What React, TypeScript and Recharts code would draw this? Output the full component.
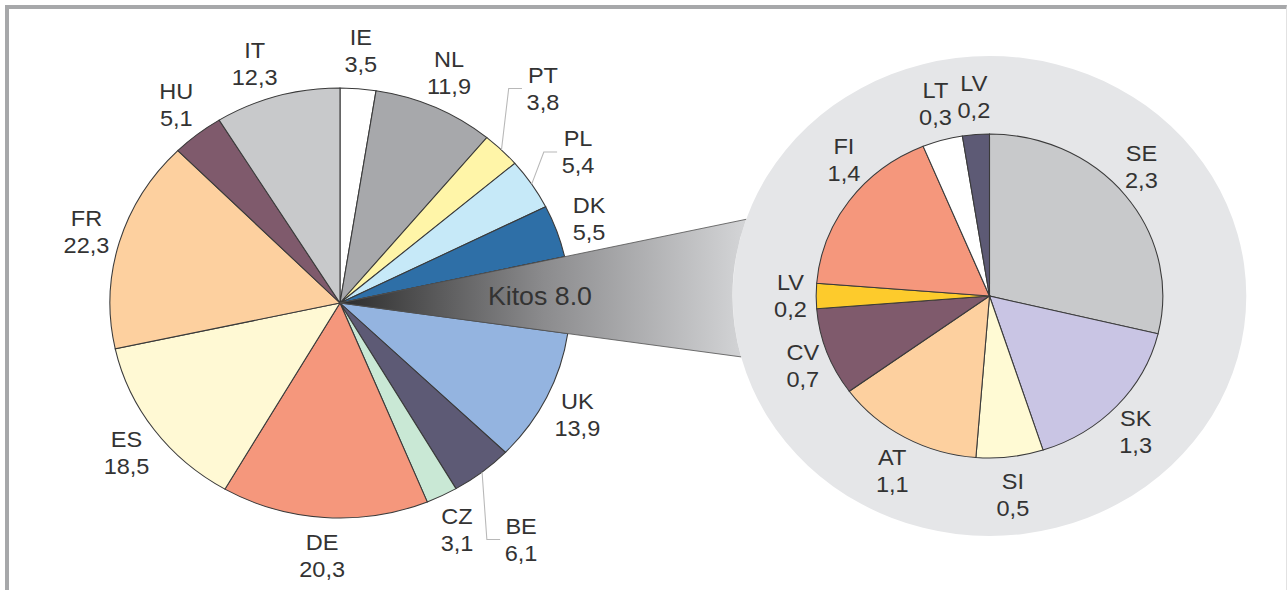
import { Cell, Pie, PieChart } from "recharts";

// main pie, clockwise from 12 o'clock
const leftNames = ["IE", "NL", "PT", "PL", "DK", "Kitos", "UK", "BE", "CZ", "DE", "ES", "FR", "HU", "IT"];
const leftValues = [3.5, 11.9, 3.8, 5.4, 5.5, 8.0, 13.9, 6.1, 3.1, 20.3, 18.5, 22.3, 5.1, 12.3];
const leftColors = [
  "#ffffff", "#a7a8ab", "#fff5a8", "#c6e9f8", "#2e6fa7", "url(#kitosBand)", "#94b4e0",
  "#5d5a75", "#c9e8d5", "#f5977c", "#fff9d4", "#fdd09f", "#7f5a6c", "#c8c9cb",
];

// "Kitos" broken out, clockwise from 12 o'clock
const rightNames = ["SE", "SK", "SI", "AT", "CV", "LV", "FI", "LT", "LV"];
const rightValues = [2.3, 1.3, 0.5, 1.1, 0.7, 0.2, 1.4, 0.3, 0.2];
const rightColors = [
  "#c8c9cb", "#c9c5e4", "#fffad4", "#fdd09f", "#7f5a6c", "#fdcb2c", "#f5977c", "#ffffff", "#5d5a75",
];

const leftData = leftNames.map((name, i) => ({ name, value: leftValues[i] }));
const rightData = rightNames.map((name, i) => ({ name, value: rightValues[i] }));
const haloData = [{ name: "Kitos", value: rightValues.reduce((a, b) => a + b, 0) }];

// the source figure is stretched horizontally
const SCALE_X = 1.07;
const W = 1287 / SCALE_X;
const H = 590;
const LEFT = { cx: 340 / SCALE_X, cy: 303, r: 215 };
const RIGHT = { cx: 989.5 / SCALE_X, cy: 296, r: 162 };
const HALO_R = 240;

const RAD = Math.PI / 180;
const FONT = "'Liberation Sans', Arial, sans-serif";
const TEXT = "#333333";

const leftNudges: Record<string, { push?: number; turn?: number }> = {
  PT: { push: 36, turn: -2.5 },
  PL: { push: 20 },
  BE: { push: 40, turn: 2 },
  IT: { turn: -3 },
};
const rightNudges: Record<string, { push?: number; turn?: number }> = {
  SE: { turn: -2 },
  FI: { turn: 7 },
};

const fmt = (v: number) => v.toFixed(1).replace(".", ",");

function kitosBand(props: any) {
  const { cx, cy, startAngle, endAngle, midAngle, name, value } = props;
  const hit = (deg: number) => {
    const dx = Math.cos(deg * RAD);
    const dy = -Math.sin(deg * RAD);
    const ox = cx - RIGHT.cx;
    const oy = cy - RIGHT.cy;
    const b = dx * ox + dy * oy;
    const c = ox * ox + oy * oy - HALO_R * HALO_R;
    const t = -b - Math.sqrt(Math.max(b * b - c, 0));
    return [cx + t * dx, cy + t * dy];
  };
  let p1 = hit(startAngle);
  let p2 = hit(endAngle);
  if (p1[1] > p2[1]) [p1, p2] = [p2, p1];
  const d = `M${cx},${cy} L${p1[0]},${p1[1]} A${HALO_R},${HALO_R} 0 0 0 ${p2[0]},${p2[1]} Z`;
  const tx = cx + 187 * Math.cos(midAngle * RAD);
  const ty = cy - 187 * Math.sin(midAngle * RAD);
  return (
    <g>
      <defs>
        <linearGradient id="kitosBand" gradientUnits="userSpaceOnUse" x1={cx} y1={cy} x2={Math.max(p1[0], p2[0])} y2={cy}>
          <stop offset="0" stopColor="#2c2c2c" />
          <stop offset="0.5" stopColor="#8b8b8d" />
          <stop offset="1" stopColor="#d4d5d7" />
        </linearGradient>
      </defs>
      <path d={d} fill="url(#kitosBand)" stroke="none" />
      <line x1={cx} y1={cy} x2={p1[0]} y2={p1[1]} stroke="#555" strokeWidth={0.8} />
      <line x1={cx} y1={cy} x2={p2[0]} y2={p2[1]} stroke="#555" strokeWidth={0.8} />
      <text x={tx} y={ty + 9} textAnchor="middle" fontSize={25} fill={TEXT} fontFamily={FONT}>
        {`${name} ${value.toFixed(1)}`}
      </text>
    </g>
  );
}

function makeLabel(gapX: number, gapY: number, nudges: Record<string, { push?: number; turn?: number }>) {
  return (props: any) => {
    const { cx, cy, midAngle, outerRadius, name, value } = props;
    if (name === "Kitos") return kitosBand(props);
    const n = nudges[name] || {};
    const push = n.push || 0;
    const a = (midAngle - (n.turn || 0)) * RAD;
    const lx = cx + (outerRadius + gapX + push) * Math.cos(a);
    const ly = cy - (outerRadius + gapY + push) * Math.sin(a);
    let leader = null;
    if (push > 0) {
      const sx = cx + outerRadius * Math.cos(midAngle * RAD);
      const sy = cy - outerRadius * Math.sin(midAngle * RAD);
      leader = (
        <polyline
          points={`${sx},${sy} ${lx - 32},${ly} ${lx - 19.6},${ly}`}
          fill="none"
          stroke="#b8b8b8"
          strokeWidth={1}
        />
      );
    }
    return (
      <g>
        {leader}
        <text x={lx} y={ly - 5.6} textAnchor="middle" fontSize={22} fill={TEXT} fontFamily={FONT}>
          {name}
        </text>
        <text x={lx} y={ly + 21.4} textAnchor="middle" fontSize={22} fill={TEXT} fontFamily={FONT}>
          {fmt(value)}
        </text>
      </g>
    );
  };
}

export default function App() {
  return (
    <div style={{ position: "absolute", left: 0, top: 0, width: 1287, height: 590, overflow: "hidden", background: "#fff" }}>
      <div
        style={{
          position: "absolute",
          left: 5,
          top: 5,
          width: 1282,
          height: 585,
          boxSizing: "border-box",
          borderTop: "4px solid #a7a8aa",
          borderLeft: "4px solid #a7a8aa",
          borderRight: "1px solid #e2e2e2",
        }}
      />
      <div style={{ position: "absolute", left: 0, top: 0, transform: `scaleX(${SCALE_X})`, transformOrigin: "0 0" }}>
        <PieChart width={W} height={H} margin={{ top: 0, right: 0, bottom: 0, left: 0 }}>
          <Pie
            data={leftData}
            dataKey="value"
            nameKey="name"
            cx={LEFT.cx}
            cy={LEFT.cy}
            outerRadius={LEFT.r}
            startAngle={90}
            endAngle={-270}
            stroke="#3a3a3a"
            strokeWidth={1}
            labelLine={false}
            label={makeLabel(32, 38, leftNudges)}
            isAnimationActive={false}
          >
            {leftData.map((d, i) => (
              <Cell key={d.name} fill={leftColors[i]} />
            ))}
          </Pie>
          <Pie
            data={haloData}
            dataKey="value"
            nameKey="name"
            cx={RIGHT.cx}
            cy={RIGHT.cy}
            outerRadius={HALO_R}
            startAngle={90}
            endAngle={-270}
            fill="#e5e6e8"
            stroke="none"
            label={false}
            labelLine={false}
            isAnimationActive={false}
          />
          <Pie
            data={rightData}
            dataKey="value"
            nameKey="name"
            cx={RIGHT.cx}
            cy={RIGHT.cy}
            outerRadius={RIGHT.r}
            startAngle={90}
            endAngle={-270}
            stroke="#3a3a3a"
            strokeWidth={1}
            labelLine={false}
            label={makeLabel(24, 38, rightNudges)}
            isAnimationActive={false}
          >
            {rightData.map((d, i) => (
              <Cell key={`${d.name}-${i}`} fill={rightColors[i]} />
            ))}
          </Pie>
        </PieChart>
      </div>
    </div>
  );
}
